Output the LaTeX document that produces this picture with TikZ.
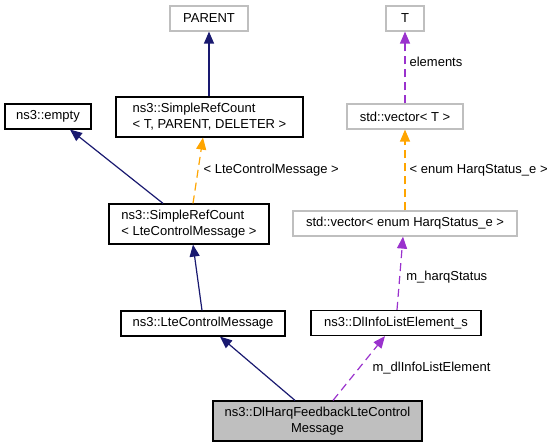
\documentclass[tikz,border=0pt]{standalone}
\usepackage{fontspec}
\setmainfont{Liberation Sans}
\usetikzlibrary{arrows.meta}
\definecolor{navyc}{HTML}{191970}
\definecolor{orangec}{HTML}{FFA500}
\definecolor{purplec}{HTML}{9A32CD}
\definecolor{grayb}{HTML}{BFBFBF}
\tikzset{
  txt/.style={font=\fontsize{13bp}{16bp}\selectfont, text=black},
  box/.style={txt, draw=black, line width=1.2bp, inner sep=0pt, minimum height=25bp},
  gbox/.style={box, draw=grayb},
  inh/.style={draw=navyc, line width=1.2bp, -{Triangle[length=12bp,width=10bp]}},
  tmpl/.style={draw=orangec, line width=1.2bp, dash pattern=on 8bp off 5bp, -{Triangle[length=12bp,width=10bp]}},
  usage/.style={draw=purplec, line width=1.2bp, dash pattern=on 8bp off 5bp, -{Triangle[length=12bp,width=10bp]}},
  lbl/.style={txt, anchor=west, inner sep=0pt}
}
\begin{document}
\begin{tikzpicture}[x=1bp,y=-1bp]
\useasboundingbox (0,0) rectangle (556,448);
% nodes
\node[gbox, minimum width=78bp] (parent) at (209,18.5) {PARENT};
\node[gbox, minimum width=38bp] (T) at (405,18.5) {T};
\node[box, minimum width=187bp, minimum height=40bp, align=left] (src1) at (209.5,117) {ns3::SimpleRefCount\\< T, PARENT, DELETER >};
\node[box, minimum width=86bp] (empty) at (48,116.5) {ns3::empty};
\node[gbox, minimum width=116bp] (vecT) at (405,116.5) {std::vector< T >};
\node[box, minimum width=160bp, minimum height=40bp, align=left] (src2) at (189,224) {ns3::SimpleRefCount\\< LteControlMessage >};
\node[gbox, minimum width=224bp] (vecE) at (405,223.5) {std::vector< enum HarqStatus\_e >};
\node[box, minimum width=164bp] (lte) at (203,323.5) {ns3::LteControlMessage};
\node[box, minimum width=170bp] (dli) at (396,323) {ns3::DlInfoListElement\_s};
\node[box, fill=grayb, minimum width=209bp, minimum height=40bp, align=center] (harq) at (317.5,421) {ns3::DlHarqFeedbackLteControl\\Message};
% edges
\draw[inh] ([xshift=-0.5bp]src1.north) -- (parent.south);
\draw[inh] ([xshift=-26bp]src2.north) -- ([xshift=22bp]empty.south);
\draw[tmpl] ([xshift=4bp]src2.north) -- ([xshift=-6.5bp]src1.south)
  node[lbl, pos=0.5, xshift=5bp] (l1) {< LteControlMessage >};
\draw[inh] ([xshift=-1bp]lte.north) -- ([xshift=4bp]src2.south);
\draw[inh] ([xshift=-22.5bp]harq.north) -- ([xshift=17bp]lte.south);
\draw[usage] (vecT.north) -- (T.south)
  node[lbl, pos=0.575, xshift=4bp] (l2) {elements};
\draw[tmpl] (vecE.north) -- (vecT.south)
  node[lbl, pos=0.5, xshift=4bp] (l3) {< enum HarqStatus\_e >};
\draw[usage] ([xshift=1bp]dli.north) -- ([xshift=-2bp]vecE.south)
  node[lbl, pos=0.45, xshift=6bp] (l4) {m\_harqStatus};
\draw[usage] ([xshift=15.5bp]harq.north) -- ([xshift=-11bp]dli.south)
  node[lbl, pos=0.5, xshift=13bp] (l5) {m\_dlInfoListElement};
\end{tikzpicture}
\end{document}
